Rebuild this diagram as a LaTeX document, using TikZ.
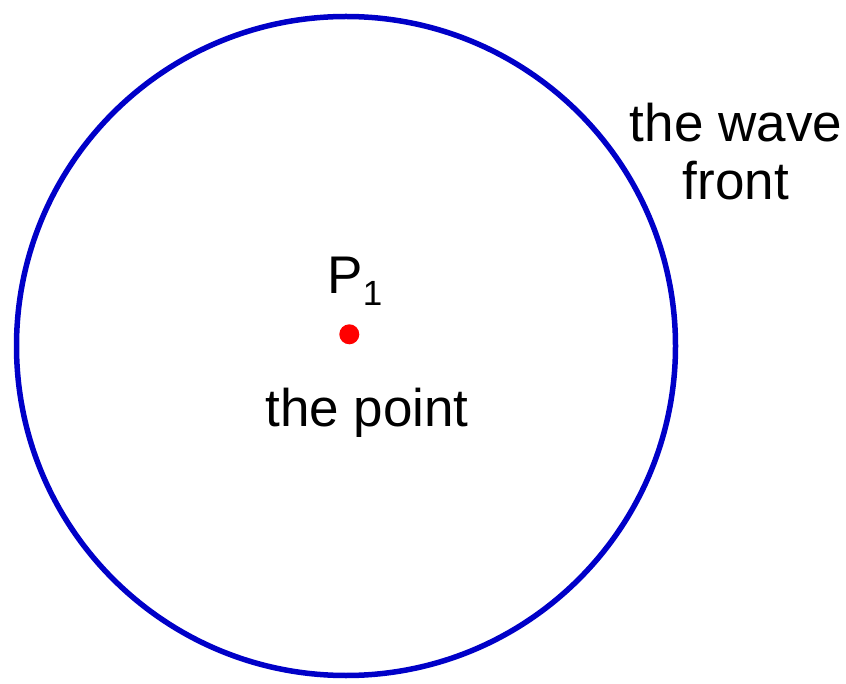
\documentclass[tikz,border=0pt]{standalone}
\usepackage{fontspec}
\setmainfont{Liberation Sans}
\usetikzlibrary{calc}
\definecolor{frontblue}{RGB}{0,0,200}
\definecolor{pointred}{RGB}{255,0,0}

\begin{document}
\begin{tikzpicture}[x=1pt,y=-1pt,
    lbl/.style={inner sep=0pt,anchor=base,font=\fontsize{53}{58}\selectfont}]
    %\draw[very thin,color=gray] (0,0) grid[step=50] (846,684);
    \useasboundingbox (0,0) rectangle (846,684);

    \coordinate (c) at (346,346);
    \draw[color=frontblue,line width=5.5pt] (c) circle(329.5);

    \fill[pointred] (349.3,334.3) circle(10) coordinate (p1);
    \node[lbl] (name) at (355,294) {P\raisebox{-12pt}{\fontsize{35}{35}\selectfont 1}};
    \node[lbl] (point) at (367,427) {the point};

    \node[lbl,align=center,anchor=north] (wave) at (736,103) {the wave\\front};
  \end{tikzpicture}
\end{document}
